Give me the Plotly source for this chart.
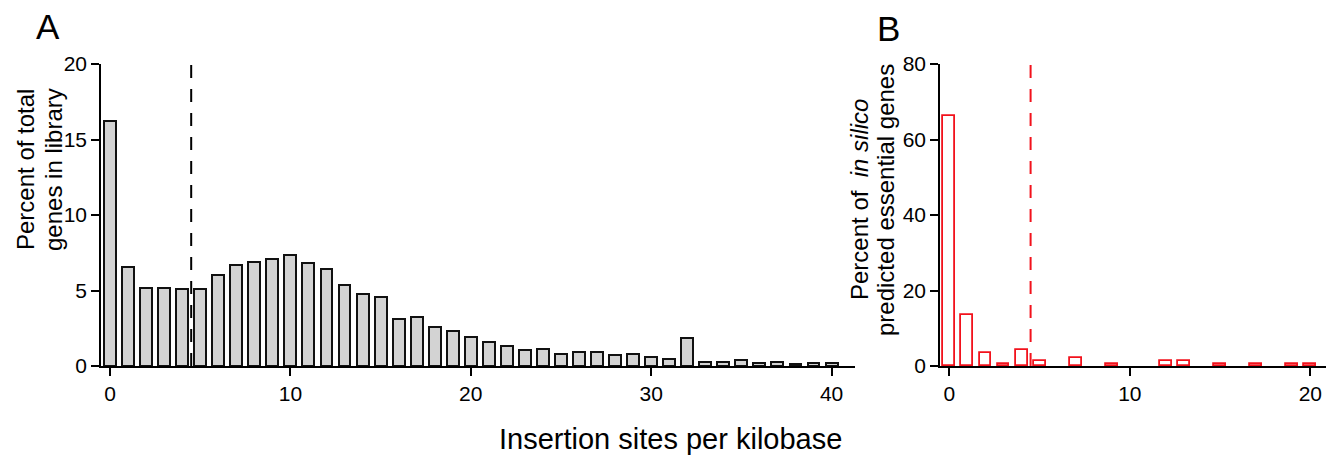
import plotly.graph_objects as go

# ---------------- data ----------------
bins_a = list(range(0, 41))
pct_a = [16.2, 6.55, 5.15, 5.15, 5.11, 5.09, 6.04, 6.68, 6.88, 7.06, 7.35,
         6.81, 6.42, 5.35, 4.80, 4.54, 3.10, 3.25, 2.57, 2.35, 1.93,
         1.57, 1.31, 1.06, 1.11, 0.82, 0.93, 0.91, 0.73, 0.80, 0.60,
         0.44, 1.84, 0.24, 0.24, 0.42, 0.20, 0.29, 0.15, 0.20, 0.20]

bins_b = list(range(0, 21))
pct_b = [66.3, 13.5, 3.45, 0.53, 4.16, 1.33, 0, 2.13, 0, 0.53, 0,
         0, 1.33, 1.33, 0, 0.53, 0, 0.53, 0, 0.53, 0.53]

threshold = 4.5
xticks_a = [0, 10, 20, 30, 40]
yticks_a = [0, 5, 10, 15, 20]
xticks_b = [0, 10, 20]
yticks_b = [0, 20, 40, 60, 80]

# ---------------- layout helpers ----------------
W, H = 1327, 455
L, R, T, B = 101, 1, 64, 89
PW, PH = W - L - R, H - T - B


def px(x):
    return (x - L) / PW


def py(y):
    return (H - B - y) / PH


FONT = "Arial, Liberation Sans, sans-serif"
RED = "#f2121c"

xb = [b for b, v in zip(bins_b, pct_b) if v > 0]
yb = [v for v in pct_b if v > 0]

fig = go.Figure()
fig.add_trace(go.Bar(x=bins_a, y=pct_a, width=0.66,
                     marker=dict(color="#d3d3d3", line=dict(color="#111111", width=2)),
                     xaxis="x", yaxis="y", showlegend=False))
fig.add_trace(go.Bar(x=xb, y=yb, width=0.66,
                     marker=dict(color="white", line=dict(color=RED, width=1.8)),
                     xaxis="x2", yaxis="y2", showlegend=False))

axis_common = dict(showline=True, linecolor="black", linewidth=1.5, ticks="outside",
                   ticklen=8, tickwidth=1.5, tickcolor="black", showgrid=False,
                   zeroline=False, tickfont=dict(family=FONT, size=21, color="black"))

fig.update_layout(
    width=W, height=H,
    margin=dict(l=L, r=R, t=T, b=B, pad=0),
    paper_bgcolor="white", plot_bgcolor="white",
    bargap=0,
    xaxis=dict(domain=[0, px(855)], range=[-0.5, 41.3], tickvals=xticks_a, **axis_common),
    yaxis=dict(domain=[0, 1], range=[0, 20], tickvals=yticks_a, anchor="x", **axis_common),
    xaxis2=dict(domain=[px(940), 1], range=[-0.52, 20.87], tickvals=xticks_b, anchor="y2", **axis_common),
    yaxis2=dict(domain=[0, 1], range=[0, 80], tickvals=yticks_b, anchor="x2", **axis_common),
    shapes=[
        dict(type="line", xref="x", yref="y", x0=threshold, x1=threshold, y0=0, y1=20,
             line=dict(color="black", width=2, dash="13px,11px")),
        dict(type="line", xref="x2", yref="y2", x0=threshold, x1=threshold, y0=0, y1=80,
             line=dict(color=RED, width=2, dash="13px,11px")),
    ],
)

ann = []


def add_text(text, x, y, size, angle=0):
    ann.append(dict(text=text, x=px(x), y=py(y), xref="paper", yref="paper",
                    xanchor="center", yanchor="middle", showarrow=False, textangle=angle,
                    font=dict(family=FONT, size=size, color="black")))


add_text("A", 48, 27, 35)
add_text("B", 888, 28, 35)
add_text("Insertion sites per kilobase", 670, 439, 29)
add_text("Percent of total", 25, 170, 24, -90)
add_text("genes in library", 53, 170, 24, -90)
add_text("Percent of  <i>in silico</i>", 859, 200, 24, -90)
add_text("predicted essential genes", 885, 200, 24, -90)

fig.update_layout(annotations=ann)
fig.write_html("out.html")
